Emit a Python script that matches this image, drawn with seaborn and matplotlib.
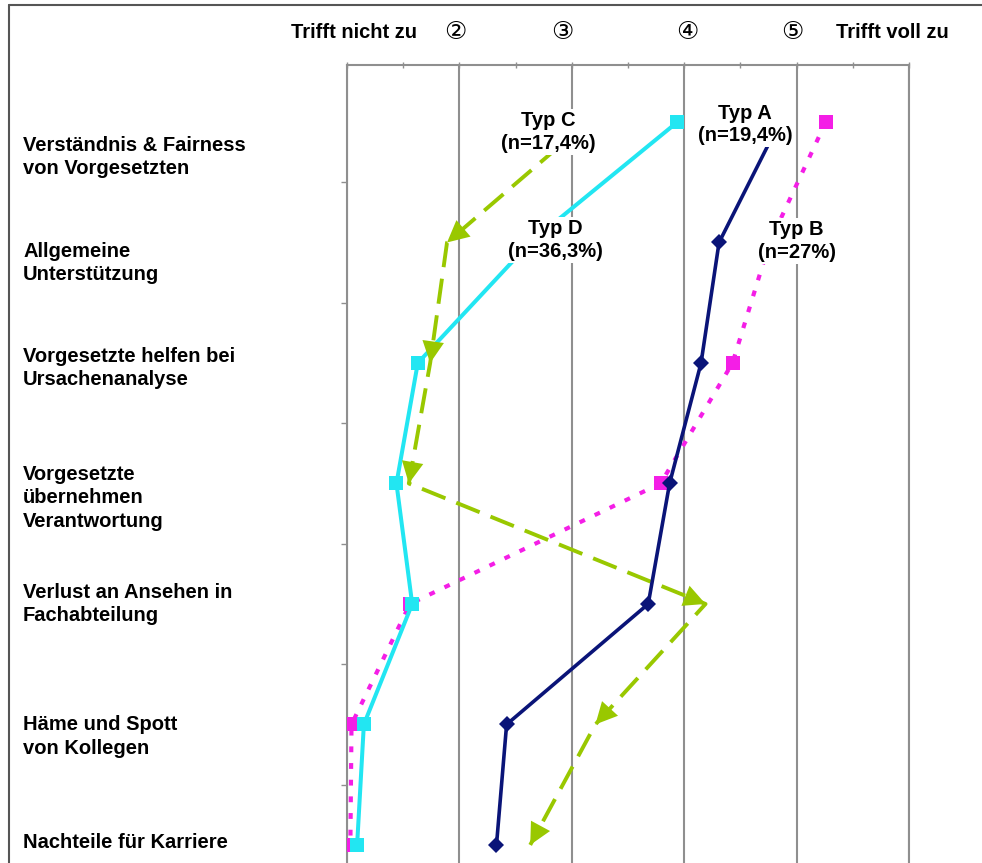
import seaborn as sns
import numpy as np
import matplotlib
matplotlib.use('Agg')
import matplotlib.pyplot as plt
import matplotlib.transforms as mtransforms

sns.set_style('white')
plt.rcParams['font.family'] = ['Liberation Sans', 'DejaVu Sans']
plt.rcParams['text.color'] = 'black'

# categories (top to bottom)
items = ['Verständnis & Fairness\nvon Vorgesetzten',
         'Allgemeine\nUnterstützung',
         'Vorgesetzte helfen bei\nUrsachenanalyse',
         'Vorgesetzte\nübernehmen\nVerantwortung',
         'Verlust an Ansehen in\nFachabteilung',
         'Häme und Spott\nvon Kollegen',
         'Nachteile für Karriere']

# scale labels 1..6
scale_labels = ['Trifft nicht zu', '②', '③', '④', '⑤', 'Trifft voll zu']

# mean ratings per type
typ_a = [4.85, 4.31, 4.15, 3.87, 3.68, 2.42, 2.33]
typ_b = [5.26, 4.76, 4.43, 3.79, 1.56, 1.04, 1.03]
typ_c = [3.14, 1.89, 1.74, 1.55, 4.19, 3.21, 2.63]
typ_d = [3.94, 2.63, 1.63, 1.44, 1.58, 1.15, 1.09]

rows = np.arange(len(items))

fig = plt.figure(figsize=(9.82, 8.63), dpi=100)
ax = fig.add_axes([347/982, 0, (909-347)/982, (863-65)/863])

grey = '#8f8f8f'

# series
sns.lineplot(x=typ_b, y=rows, sort=False, estimator=None, ax=ax, color='#f41ee6',
             lw=3, linestyle=(0, (1.4, 2.6)), marker='s', markersize=10,
             markeredgewidth=0, zorder=3)
sns.lineplot(x=typ_d, y=rows, sort=False, estimator=None, ax=ax, color='#22e6f2',
             lw=2.9, marker='s', markersize=10, markeredgewidth=0, zorder=4)
sns.lineplot(x=typ_c, y=rows, sort=False, estimator=None, ax=ax, color='#99c800',
             lw=2.8, linestyle=(0, (6.5, 3)), zorder=5)
sns.lineplot(x=typ_a, y=rows, sort=False, estimator=None, ax=ax, color='#0a1478',
             lw=2.6, marker='D', markersize=8, markeredgewidth=0, zorder=6)

# arrow heads for Typ C
for i in range(len(typ_c) - 1):
    x0, y0 = typ_c[i], rows[i]
    x1, y1 = typ_c[i + 1], rows[i + 1]
    ax.annotate('', xy=(x1, y1), xytext=(x0 + 0.85 * (x1 - x0), y0 + 0.85 * (y1 - y0)),
                arrowprops=dict(arrowstyle='-|>,head_length=0.6,head_width=0.3',
                                color='#99c800', lw=0, mutation_scale=26,
                                shrinkA=0, shrinkB=0), zorder=5)

# series labels
lab_kw = dict(ha='center', va='center', fontsize=14.5, fontweight='bold', zorder=10,
              linespacing=1.25,
              bbox=dict(facecolor='white', edgecolor='none', pad=1.5))
ax.text(2.79, 0.08, 'Typ C\n(n=17,4%)', **lab_kw)
ax.text(4.54, 0.02, 'Typ A\n(n=19,4%)', **lab_kw)
ax.text(2.85, 0.98, 'Typ D\n(n=36,3%)', **lab_kw)
ax.text(5.00, 0.99, 'Typ B\n(n=27%)', **lab_kw)

ax.set_xlim(1, 6)
ax.set_ylim(6.15, -0.473)

# top scale
ax.xaxis.tick_top()
ax.set_xticks(range(1, 7))
ax.set_xticklabels([])
ax.set_xticks(np.arange(1.5, 6, 1), minor=True)
ax.tick_params(axis='x', which='both', top=True, bottom=False, direction='inout',
               length=5, width=1, color=grey)
scale_x = [1.06, 1.96, 2.92, 4.03, 4.96, 5.85]
top_trans = mtransforms.blended_transform_factory(ax.transData, ax.transAxes)
for x, txt in zip(scale_x, scale_labels):
    circled = len(txt) == 1
    ax.text(x, 1 + 33/798, txt, transform=top_trans, ha='center', va='center',
            fontsize=18 if circled else 14.5,
            fontweight='normal' if circled else 'bold', clip_on=False)
ax.grid(axis='x', color=grey, lw=1.5)
ax.grid(axis='y', visible=False)

# left minor ticks between rows
ax.set_yticks([])
ax.set_yticks(np.arange(0.5, 6, 1), minor=True)
ax.tick_params(axis='y', which='minor', left=True, direction='out', length=4,
               width=1, color=grey)
ax.set_yticklabels([], minor=True)

for side in ['top', 'left', 'right']:
    ax.spines[side].set_color(grey)
    ax.spines[side].set_linewidth(1.5)
ax.spines['bottom'].set_visible(False)

# item labels
label_shift = [0.29, 0.17, 0.04, 0.12, 0.0, 0.10, -0.02]
trans = mtransforms.blended_transform_factory(fig.transFigure, ax.transData)
for r, txt, s in zip(rows, items, label_shift):
    fig.text(23/982, r + s, txt, transform=trans, ha='left', va='center',
             fontsize=14.5, fontweight='bold', linespacing=1.3)

# frame
fig.add_artist(plt.Line2D([9/982, 9/982], [0, 1 - 5/863], color='#555555', lw=1.5))
fig.add_artist(plt.Line2D([9/982, 1], [1 - 5/863, 1 - 5/863], color='#555555', lw=1.5))

fig.savefig('out.png', dpi=100)
